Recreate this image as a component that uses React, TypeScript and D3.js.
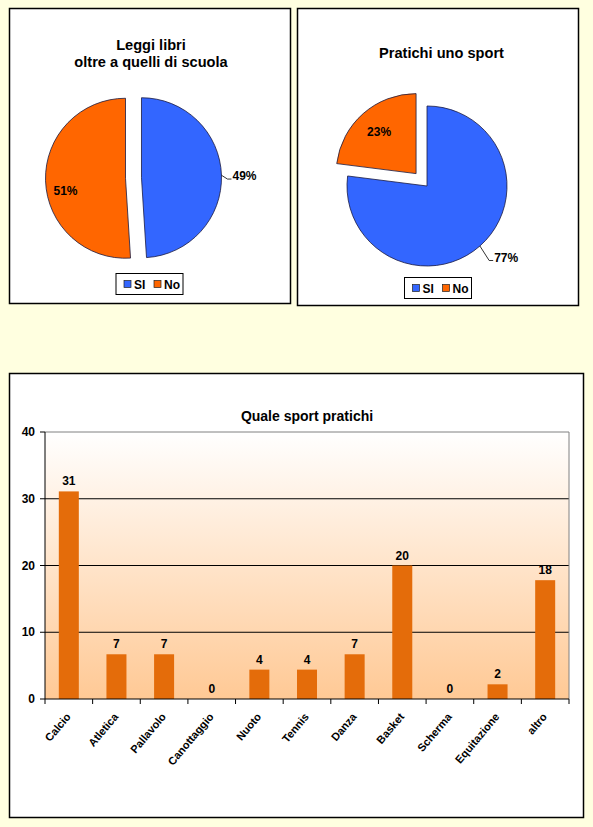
import * as d3 from "d3";

// pie 1: "Leggi libri oltre a quelli di scuola"
const pieLabels = ["SI", "No"];
const booksValues = [49, 51];
// pie 2: "Pratichi uno sport"
const sportValues = [77, 23];

// bar chart: "Quale sport pratichi"
const sports = [
  "Calcio",
  "Atletica",
  "Pallavolo",
  "Canottaggio",
  "Nuoto",
  "Tennis",
  "Danza",
  "Basket",
  "Scherma",
  "Equitazione",
  "altro",
];
const sportCounts = [31.1, 6.7, 6.7, 0, 4.4, 4.4, 6.7, 20, 0, 2.2, 17.8];
const yTicks = [0, 10, 20, 30, 40];

const FONT = "'Liberation Sans', Arial, sans-serif";
const pieColors = ["#3366FF", "#FF6600"];
const barColor = "#E46C0A";

type PieProps = {
  cx: number;
  cy: number;
  r: number;
  values: number[];
  explode: number[];
  inside: boolean[];
  insideR: number;
  insideDy: number;
  leaderLen: number;
};

const Pie = ({ cx, cy, r, values, explode, inside, insideR, insideDy, leaderLen }: PieProps) => {
  const arcs = d3.pie<number>().sort(null).startAngle(0)(values);
  const arc = d3.arc<d3.PieArcDatum<number>>().innerRadius(0).outerRadius(r);
  const total = d3.sum(values);
  return (
    <g>
      {arcs.map((a, i) => {
        const mid = (a.startAngle + a.endAngle) / 2;
        const ux = Math.sin(mid);
        const uy = -Math.cos(mid);
        const ox = cx + ux * explode[i];
        const oy = cy + uy * explode[i];
        const pct = Math.round((values[i] / total) * 100) + "%";
        let label;
        if (inside[i]) {
          label = (
            <text
              x={ox + ux * insideR}
              y={oy + uy * insideR + 4 + insideDy}
              textAnchor="middle"
              fontSize={12}
              fontWeight="bold"
            >
              {pct}
            </text>
          );
        } else {
          const ex = ox + ux * r;
          const ey = oy + uy * r;
          const kx = ex + ux * leaderLen;
          const ky = ey + uy * leaderLen + 4;
          label = (
            <g>
              <path
                d={`M${ex},${ey}L${kx},${ky}L${kx + 4},${ky}`}
                fill="none"
                stroke="#000"
                strokeWidth={0.8}
              />
              <text x={kx + 5} y={ky + 1} fontSize={12} fontWeight="bold">
                {pct}
              </text>
            </g>
          );
        }
        return (
          <g key={i}>
            <path
              d={arc(a) || ""}
              transform={`translate(${ox},${oy})`}
              fill={pieColors[i]}
              stroke="#1a1a40"
              strokeWidth={0.8}
            />
            {label}
          </g>
        );
      })}
    </g>
  );
};

const Legend = ({ x, y }: { x: number; y: number }) => (
  <g transform={`translate(${x},${y})`}>
    <rect width={67} height={21} fill="#fff" stroke="#000" strokeWidth={1} />
    {pieLabels.map((l, i) => (
      <g key={l} transform={`translate(${8 + i * 30},0)`}>
        <rect x={0} y={7} width={7} height={7} fill={pieColors[i]} stroke="#222" strokeWidth={0.7} />
        <text x={10} y={15} fontSize={12} fontWeight="bold">
          {l}
        </text>
      </g>
    ))}
  </g>
);

const BarChart = () => {
  const left = 45;
  const right = 569;
  const top = 432;
  const bottom = 699;
  const x = d3
    .scaleBand<string>()
    .domain(sports)
    .range([left, right])
    .paddingInner(0.58)
    .paddingOuter(0.29);
  const y = d3.scaleLinear().domain([0, 40]).range([bottom, top]);
  const step = x.step();
  return (
    <g>
      <defs>
        <linearGradient id="plotGrad" x1="0" y1="0" x2="0" y2="1">
          <stop offset="0" stopColor="#FFFFFF" />
          <stop offset="1" stopColor="#FFC995" />
        </linearGradient>
      </defs>
      <rect x={left} y={top} width={right - left} height={bottom - top} fill="url(#plotGrad)" />
      {yTicks.slice(1, -1).map((t) => (
        <line key={t} x1={left} x2={right} y1={y(t)} y2={y(t)} stroke="#000" strokeWidth={1} />
      ))}
      <line x1={left} x2={right} y1={top} y2={top} stroke="#808080" strokeWidth={1} />
      <line x1={right} x2={right} y1={top} y2={bottom} stroke="#808080" strokeWidth={1} />
      {sports.map((s, i) => (
        <g key={s}>
          <rect
            x={x(s)}
            y={y(sportCounts[i])}
            width={x.bandwidth()}
            height={bottom - y(sportCounts[i])}
            fill={barColor}
          />
          <text
            x={(x(s) || 0) + x.bandwidth() / 2}
            y={y(sportCounts[i]) - 6}
            textAnchor="middle"
            fontSize={12}
            fontWeight="bold"
          >
            {Math.round(sportCounts[i])}
          </text>
          <text
            transform={`translate(${(x(s) || 0) + x.bandwidth() / 2 + 2.5},${bottom + 18}) rotate(-50)`}
            textAnchor="end"
            fontSize={11}
            fontWeight="bold"
          >
            {s}
          </text>
        </g>
      ))}
      {/* axes */}
      <line x1={left} x2={left} y1={top} y2={bottom} stroke="#000" strokeWidth={1} />
      <line x1={left} x2={right} y1={bottom} y2={bottom} stroke="#000" strokeWidth={1} />
      {yTicks.map((t) => (
        <g key={t}>
          <line x1={left - 5} x2={left} y1={y(t)} y2={y(t)} stroke="#000" />
          <text x={left - 10} y={y(t) + 4} textAnchor="end" fontSize={12} fontWeight="bold">
            {t}
          </text>
        </g>
      ))}
      {d3.range(sports.length + 1).map((i) => (
        <line
          key={i}
          x1={left + i * step}
          x2={left + i * step}
          y1={bottom}
          y2={bottom + 5}
          stroke="#000"
        />
      ))}
      <text
        x={(left + right) / 2}
        y={421}
        textAnchor="middle"
        fontSize={14}
        fontWeight="bold"
      >
        Quale sport pratichi
      </text>
    </g>
  );
};

export default function App() {
  return (
    <svg
      width={593}
      height={827}
      style={{ position: "absolute", left: 0, top: 0 }}
      fontFamily={FONT}
    >
      <rect width={593} height={827} fill="#FFFFE0" />

      {/* panel 1 */}
      <rect x={9.5} y={8.5} width={281} height={295} fill="#fff" stroke="#000" strokeWidth={1.5} />
      <text x={151} y={50} textAnchor="middle" fontSize={14.6} fontWeight="bold">
        Leggi libri
      </text>
      <text x={151} y={67} textAnchor="middle" fontSize={14.6} fontWeight="bold">
        oltre a quelli di scuola
      </text>
      <Pie
        cx={133.5}
        cy={178}
        r={80}
        values={booksValues}
        explode={[8, 8]}
        inside={[false, true]}
        insideR={60}
        insideDy={11}
        leaderLen={6}
      />
      <Legend x={116} y={273.5} />

      {/* panel 2 */}
      <rect x={297.5} y={8.5} width={281} height={297} fill="#fff" stroke="#000" strokeWidth={1.5} />
      <text x={441.5} y={58} textAnchor="middle" fontSize={14.6} fontWeight="bold">
        Pratichi uno sport
      </text>
      <Pie
        cx={427}
        cy={186}
        r={80}
        values={sportValues}
        explode={[0, 16.5]}
        inside={[false, true]}
        insideR={56}
        insideDy={0}
        leaderLen={14}
      />
      <Legend x={404.5} y={277.5} />

      {/* panel 3 */}
      <rect x={9.5} y={373.5} width={574} height={444} fill="#fff" stroke="#000" strokeWidth={1.5} />
      <BarChart />
    </svg>
  );
}
